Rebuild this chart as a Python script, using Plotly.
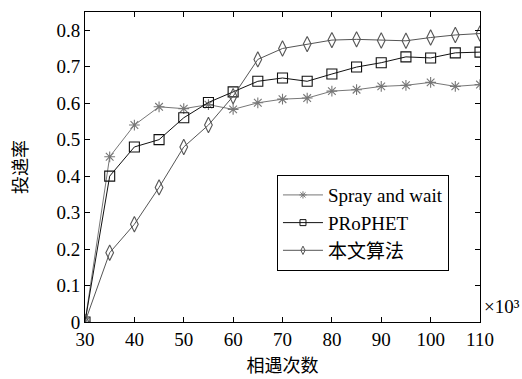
import plotly.graph_objects as go

x_vals = [30, 35, 40, 45, 50, 55, 60, 65, 70, 75, 80, 85, 90, 95, 100, 105, 110]
spray = [0, 0.453, 0.54, 0.59, 0.585, 0.596, 0.583, 0.601, 0.611, 0.614, 0.633, 0.637, 0.646, 0.649, 0.657, 0.646, 0.651]
prophet = [0, 0.40, 0.48, 0.50, 0.56, 0.602, 0.631, 0.660, 0.669, 0.660, 0.680, 0.699, 0.711, 0.727, 0.724, 0.738, 0.740]
ours = [0, 0.19, 0.268, 0.369, 0.48, 0.54, 0.619, 0.72, 0.750, 0.762, 0.773, 0.775, 0.772, 0.771, 0.780, 0.787, 0.791]
names = ["Spray and wait", "PRoPHET", "本文算法"]
x_ticks = [30, 40, 50, 60, 70, 80, 90, 100, 110]
y_ticks = [0, 0.1, 0.2, 0.3, 0.4, 0.5, 0.6, 0.7, 0.8]

FONT = "'Liberation Serif', 'Times New Roman', 'Noto Sans CJK SC', serif"

colors = ["#777777", "#111111", "#555555"]
symbols = ["asterisk-open", "square-open", "diamond-tall-open"]
sizes = [9, 10, 11]
series = [spray, prophet, ours]

fig = go.Figure()
for name, ys, c, s, sz in zip(names, series, colors, symbols, sizes):
    fig.add_trace(go.Scatter(x=x_vals, y=ys, name=name, mode="lines+markers",
                             showlegend=False,
                             line=dict(color=c, width=1),
                             marker=dict(symbol=s, size=sz, color=c,
                                         line=dict(width=1.1, color=c))))
# legend entries with small markers, as in the reference
for name, c, s in zip(names, colors, symbols):
    fig.add_trace(go.Scatter(x=[None], y=[None], name=name, mode="lines+markers",
                             line=dict(color=c, width=1),
                             marker=dict(symbol=s, size=6, color=c,
                                         line=dict(width=1, color=c))))

axis_common = dict(showgrid=False, zeroline=False, showline=True, linecolor="black",
                   linewidth=1, mirror="ticks", ticks="inside", ticklen=5,
                   tickcolor="black", automargin=False,
                   tickfont=dict(family=FONT, size=19, color="black"))

fig.update_xaxes(range=[30, 110], tickvals=x_ticks, ticktext=[str(v) for v in x_ticks],
                 title=dict(text="相遇次数", font=dict(family=FONT, size=18, color="black"), standoff=10),
                 **axis_common)
fig.update_yaxes(range=[0, 0.85], tickvals=y_ticks, ticktext=["0"] + [f"{v:.1f}" for v in y_ticks[1:]],
                 title=dict(text="投递率", font=dict(family=FONT, size=18, color="black"), standoff=24),
                 **axis_common)

fig.add_annotation(text="×10³", xref="paper", yref="paper", x=1.0, y=0.05,
                   xanchor="left", yanchor="middle", showarrow=False, xshift=2,
                   font=dict(family=FONT, size=19, color="black"))

fig.update_layout(
    width=522, height=379,
    margin=dict(l=85, r=42, t=12, b=57, autoexpand=False),
    paper_bgcolor="white", plot_bgcolor="white",
    font=dict(family=FONT, color="black"),
    legend=dict(x=0.486, y=0.474, xanchor="left", yanchor="top",
                bordercolor="black", borderwidth=1, bgcolor="white",
                font=dict(family=FONT, size=19, color="black"),
                itemwidth=40, tracegroupgap=0),
    showlegend=True,
)

fig.write_html("out.html")
